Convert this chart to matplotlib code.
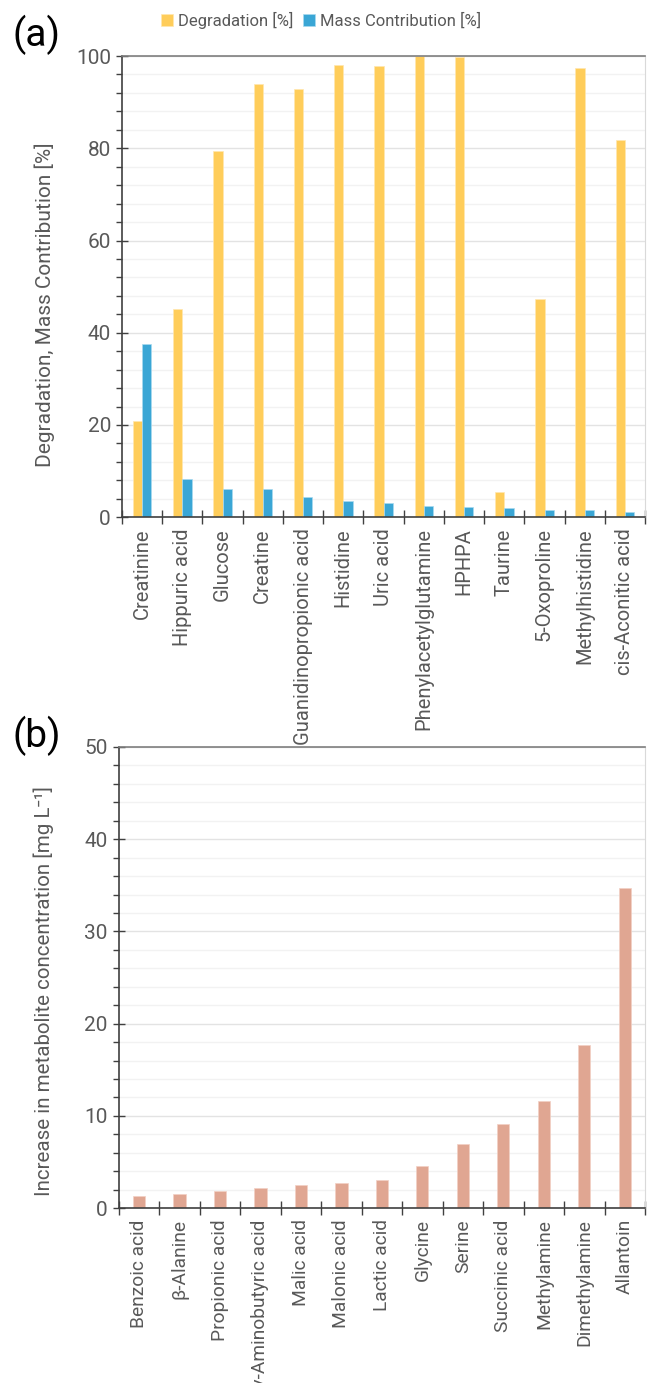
import numpy as np
import matplotlib.pyplot as plt
from matplotlib.ticker import MultipleLocator

# Panel (a) data
compounds_a = ["Creatinine", "Hippuric acid", "Glucose", "Creatine",
               "Guanidinopropionic acid", "Histidine", "Uric acid",
               "Phenylacetylglutamine", "HPHPA", "Taurine", "5-Oxoproline",
               "Methylhistidine", "cis-Aconitic acid"]
degradation = [20.8, 45.2, 79.3, 94.0, 92.8, 98.0, 97.8, 100.0, 99.8, 5.5, 47.3, 97.5, 81.8]
mass_contrib = [37.6, 8.3, 6.2, 6.1, 4.4, 3.5, 3.0, 2.5, 2.3, 2.0, 1.6, 1.5, 1.1]

# Panel (b) data
compounds_b = ["Benzoic acid", "β-Alanine", "Propionic acid", "γ-Aminobutyric acid",
               "Malic acid", "Malonic acid", "Lactic acid", "Glycine", "Serine",
               "Succinic acid", "Methylamine", "Dimethylamine", "Allantoin"]
increase = [1.3, 1.55, 1.9, 2.2, 2.45, 2.75, 3.0, 4.6, 6.9, 9.1, 11.6, 17.7, 34.7]

plt.rcParams["font.family"] = ["Roboto", "DejaVu Sans"]
txt = "#595959"
yellow = "#FFCD5A"
blue = "#3AA6D5"
salmon = "#E0A692"

fig = plt.figure(figsize=(6.49, 13.83), dpi=100)
ax1 = fig.add_axes([0.188, 0.626, 0.806, 0.3335])
ax2 = fig.add_axes([0.183, 0.1265, 0.811, 0.3334])


def style_axis(ax, ymax, major, minor, n, xsize):
    ax.set_xlim(-0.5, n - 0.5)
    ax.set_ylim(0, ymax)
    ax.yaxis.set_major_locator(MultipleLocator(major))
    ax.yaxis.set_minor_locator(MultipleLocator(minor))
    ax.grid(axis="y", which="major", color="#E3E3E3", lw=1.0)
    ax.grid(axis="y", which="minor", color="#F2F2F2", lw=1.0)
    ax.set_axisbelow(True)
    ax.tick_params(axis="y", which="major", direction="inout", length=8,
                   width=1, color="#404040", labelcolor=txt, labelsize=15, pad=4)
    ax.tick_params(axis="y", which="minor", direction="out", length=4,
                   width=1, color="#404040")
    # category ticks between groups
    ax.set_xticks(np.arange(n + 1) - 0.5, minor=True)
    ax.tick_params(axis="x", which="minor", direction="inout", length=10,
                   width=1, color="#404040")
    ax.tick_params(axis="x", which="major", length=0, labelcolor=txt,
                   labelsize=xsize, pad=8)
    for s in ["left", "bottom"]:
        ax.spines[s].set_color("#404040")
        ax.spines[s].set_linewidth(1.2)
    ax.spines["top"].set_color("#7F7F7F")
    ax.spines["top"].set_linewidth(1.2)
    ax.spines["right"].set_color("#D9D9D9")


x = np.arange(len(compounds_a))
w = 0.23
ax1.bar(x - w / 2, degradation, w, color=yellow, edgecolor="#FFE7B0", lw=0.5,
        label="Degradation [%]")
ax1.bar(x + w / 2, mass_contrib, w, color=blue, edgecolor="#A8DAF0", lw=0.5,
        label="Mass Contribution [%]")
style_axis(ax1, 100, 20, 4, len(compounds_a), 14.5)
ax1.set_xticks(x)
ax1.set_xticklabels(compounds_a, rotation=90)
ax1.set_ylabel("Degradation, Mass Contribution [%]", color=txt, fontsize=15)
ax1.yaxis.set_label_coords(-0.128, 0.46)
ax1.legend(loc="lower center", bbox_to_anchor=(0.38, 1.045), ncol=2, frameon=False,
           fontsize=12, labelcolor=txt, handlelength=0.7, handleheight=0.7,
           handletextpad=0.3, columnspacing=0.6, borderaxespad=0)

xb = np.arange(len(compounds_b))
ax2.bar(xb, increase, 0.3, color=salmon, edgecolor="#F2D0C4", lw=0.5)
style_axis(ax2, 50, 10, 2, len(compounds_b), 13.8)
ax2.set_xticks(xb)
ax2.set_xticklabels(compounds_b, rotation=90)
ax2.set_ylabel("Increase in metabolite concentration [mg L⁻¹]", color=txt, fontsize=14.8)
ax2.yaxis.set_label_coords(-0.124, 0.47)

fig.text(0.0185, 0.975, "(a)", fontsize=28, color="black", va="center")
fig.text(0.0185, 0.468, "(b)", fontsize=28, color="black", va="center")

fig.savefig("out.png", dpi=100)
